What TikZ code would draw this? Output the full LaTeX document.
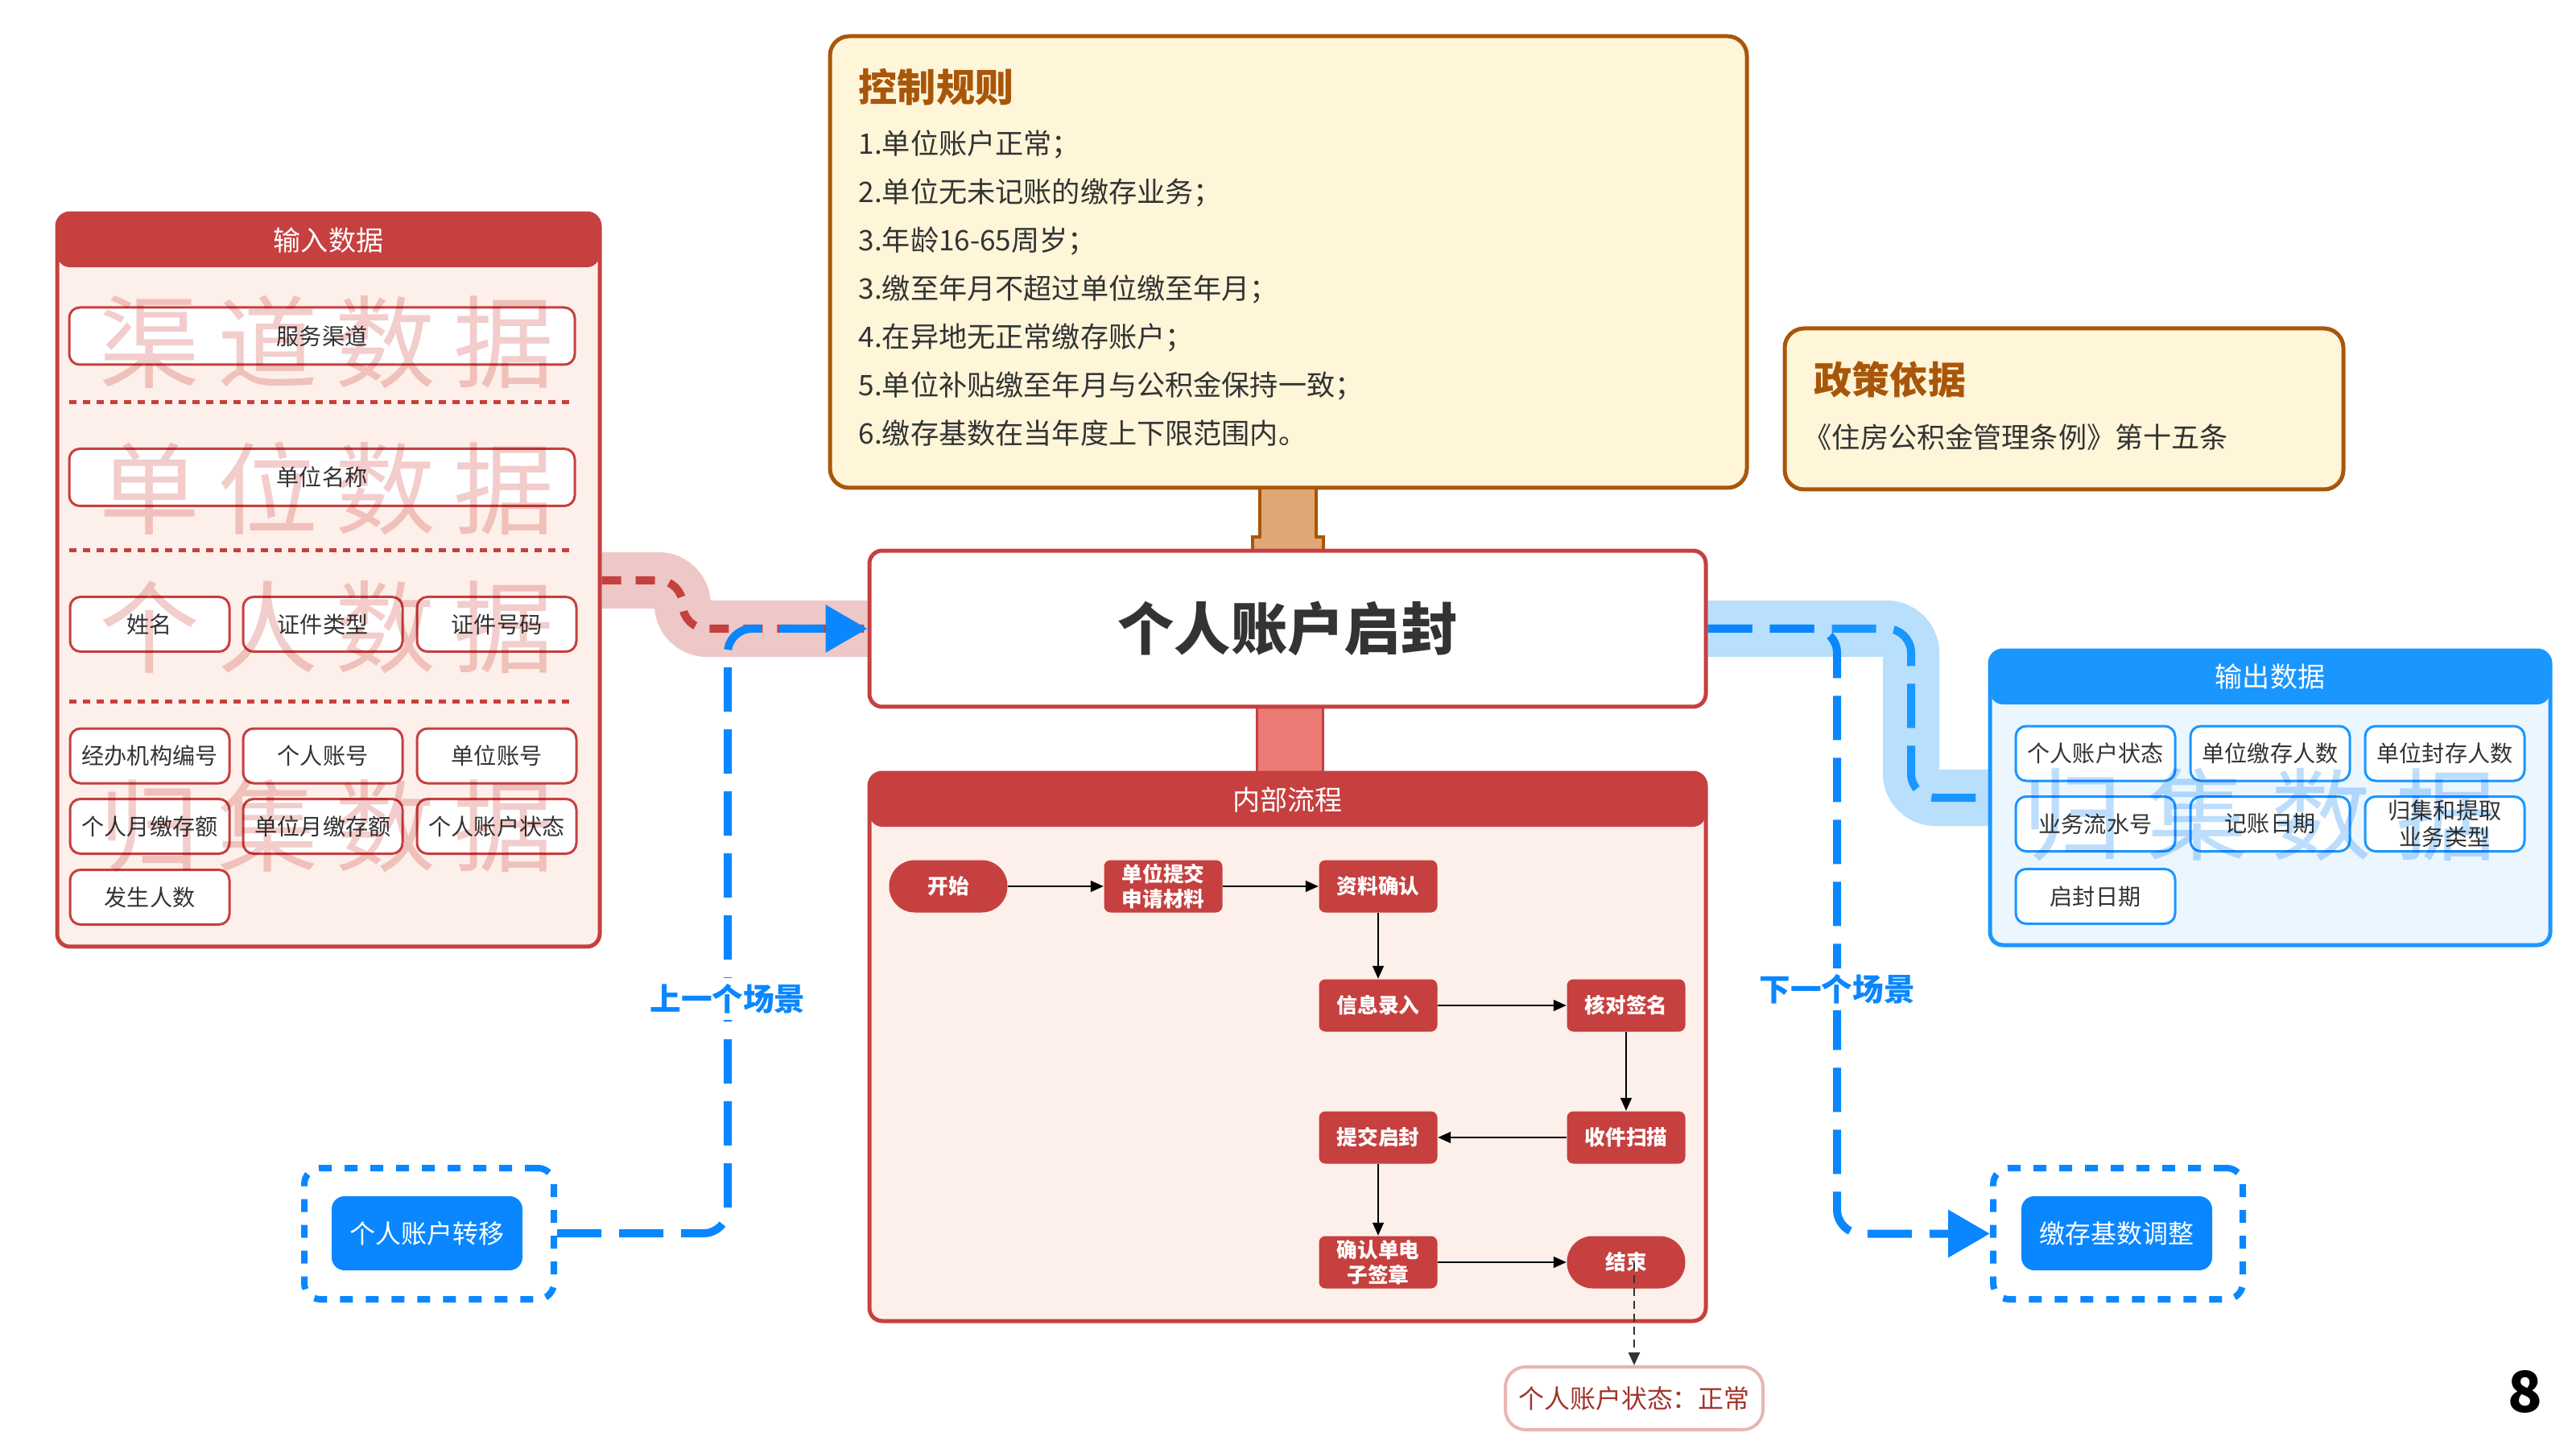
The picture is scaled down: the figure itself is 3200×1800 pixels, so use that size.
\documentclass[tikz,border=0pt]{standalone}
\usepackage{fontspec}
\setmainfont{Noto Sans CJK SC}
\usetikzlibrary{arrows,arrows.meta,positioning}

\definecolor{hdrred}{HTML}{C5403F}
\definecolor{panelpink}{HTML}{FDEFE9}
\definecolor{markpink}{HTML}{F2CDCC}
\definecolor{bandpink}{HTML}{EDC8C7}
\definecolor{linkred}{HTML}{EC7B75}
\definecolor{rulebrown}{HTML}{A8570A}
\definecolor{rulefill}{HTML}{FFF5D9}
\definecolor{stemtan}{HTML}{DFA774}
\definecolor{hdrblue}{HTML}{1A96FF}
\definecolor{lineblue}{HTML}{0A87FF}
\definecolor{bandblue}{HTML}{B8DFFC}
\definecolor{panelblue}{HTML}{EBF6FF}
\definecolor{markblue}{HTML}{BCDEFC}
\definecolor{txt}{HTML}{333333}
\definecolor{okred}{HTML}{A1362D}
\definecolor{okline}{HTML}{E9B5B2}

\pgfdeclarelayer{bg}
\pgfsetlayers{bg,main}

\begin{document}
\begin{tikzpicture}[x=0.1mm,y=-0.1mm,node distance=26.7mm,
    >={Triangle[length=1.6mm,width=1.4mm]},
    panel/.style={draw=#1,line width=0.5mm,rounded corners=1.6mm,inner sep=0pt},
    hdr/.style={path picture={\fill[#1] (path picture bounding box.north west)
      rectangle ([yshift=-6.7mm]path picture bounding box.north east);}},
    hdrtext/.style={text=white,inner sep=0pt,font=\fontsize{9.7}{11}\selectfont},
    databox/.style={draw=#1,fill=white,line width=0.3mm,rounded corners=1.3mm,
      minimum width=19.8mm,minimum height=6.8mm,inner sep=0pt,text=txt,
      align=center,font=\fontsize{8}{9.4}\selectfont},
    widebox/.style={databox=hdrred,minimum width=62.8mm,minimum height=7.1mm},
    sepline/.style={draw=hdrred,line width=0.5mm,dash pattern=on 0.9mm off 0.8mm},
    watermark/.style={text=#1,inner sep=0pt,font=\fontsize{35.5}{36}\selectfont},
    stepbox/.style={fill=hdrred,text=white,rounded corners=0.8mm,
      minimum width=14.7mm,minimum height=6.5mm,inner sep=0pt,align=center,
      font=\bfseries\fontsize{7.3}{8.8}\selectfont},
    startstop/.style={stepbox,rounded corners=3.2mm},
    band/.style={draw=#1,line width=7mm,rounded corners=3mm},
    flowline/.style={draw=#1,line width=1mm,dash pattern=on 5.5mm off 2.2mm,
      rounded corners=3mm},
    bigtip/.style={-{Triangle[length=5.2mm,width=5.7mm]}},
    sceneframe/.style={draw=lineblue,line width=0.8mm,dash pattern=on 1.6mm off 1.6mm,
      rounded corners=2mm,minimum width=31mm,minimum height=16.3mm,inner sep=0pt},
    scenebox/.style={fill=lineblue,text=white,rounded corners=1.6mm,inner sep=0pt,
      minimum width=23.7mm,minimum height=9.2mm,font=\fontsize{9.1}{11}\selectfont},
    scenelabel/.style={fill=white,text=lineblue,inner sep=0.8mm,
      font=\bfseries\fontsize{11}{13}\selectfont}]

  \useasboundingbox (0,0) rectangle (3200,1800);

  % rules and policy
  \node[panel=rulebrown,fill=rulefill,rounded corners=2.4mm,
        minimum width=113.9mm,minimum height=56.1mm] (rules) at (1600.5,325.5) {};
  \node[anchor=west,inner sep=0pt,text=rulebrown,
        font=\bfseries\fontsize{13.7}{15}\selectfont] (rulestitle) at (1066,108) {控制规则};
  \node[anchor=west,inner sep=0pt,text=txt,align=left,
        font=\fontsize{10}{17.1}\selectfont] (ruleslist) at (1066,358)
    {1.单位账户正常；\\2.单位无未记账的缴存业务；\\3.年龄16-65周岁；\\
     3.缴至年月不超过单位缴至年月；\\4.在异地无正常缴存账户；\\
     5.单位补贴缴至年月与公积金保持一致；\\6.缴存基数在当年度上下限范围内。};

  \node[panel=rulebrown,fill=rulefill,rounded corners=2.4mm,
        minimum width=69.4mm,minimum height=20mm] (policy) at (2564,508) {};
  \node[anchor=west,inner sep=0pt,text=rulebrown,
        font=\bfseries\fontsize{13.4}{15}\selectfont] (policytitle) at (2253,471) {政策依据};
  \node[anchor=west,inner sep=0pt,text=txt,
        font=\fontsize{10}{12}\selectfont] (policytext) at (2240,543)
    {《住房公积金管理条例》第十五条};

  % stems
  \draw[draw=rulebrown,fill=stemtan,line width=0.4mm]
    (1565,606) -- (1635,606) -- (1635,667) -- (1644,667) -- (1644,684)
    -- (1556,684) -- (1556,667) -- (1565,667) -- cycle;
  \draw[draw=hdrred,fill=linkred,line width=0.3mm] (1561,878) rectangle (1643,960);

  % main box
  \node[draw=hdrred,line width=0.5mm,fill=white,rounded corners=1.6mm,
        minimum width=103.9mm,minimum height=19.4mm,text=txt,
        font=\bfseries\fontsize{20}{24}\selectfont] (main) at (1599.5,781) {个人账户启封};

  % input data
  \node[panel=hdrred,fill=panelpink,hdr=hdrred,
        minimum width=67.4mm,minimum height=91.1mm] (inpanel) at (408,720.5) {};
  \node[hdrtext] (intitle) at (408,299) {输入数据};

  \node[widebox] (channel) at (400,417.5) {服务渠道};
  \draw[sepline] (86,500) -- (714,500);
  \node[widebox] (unitname) at (400,593) {单位名称};
  \draw[sepline] (86,684) -- (714,684);
  \node[databox=hdrred] (name) at (186,775.5) {姓名};
  \node[databox=hdrred] (idtype) at (401,775.5) {证件类型};
  \node[databox=hdrred] (idno) at (617,775.5) {证件号码};
  \draw[sepline] (86,871) -- (714,871);
  \node[databox=hdrred] (agency) at (186,939) {经办机构编号};
  \node[databox=hdrred] (perac) at (401,939) {个人账号};
  \node[databox=hdrred] (unitac) at (617,939) {单位账号};
  \node[databox=hdrred] (permonth) at (186,1026.5) {个人月缴存额};
  \node[databox=hdrred] (unitmonth) at (401,1026.5) {单位月缴存额};
  \node[databox=hdrred] (perstate) at (617,1026.5) {个人账户状态};
  \node[databox=hdrred] (count) at (186,1114.5) {发生人数};

  % output data
  \node[panel=hdrblue,fill=panelblue,hdr=hdrblue,
        minimum width=69.6mm,minimum height=36.6mm] (outpanel) at (2820,991) {};
  \node[hdrtext] (outtitle) at (2820,841) {输出数据};
  \node[databox=hdrblue] (ostate) at (2603,936) {个人账户状态};
  \node[databox=hdrblue] (opaid) at (2820,936) {单位缴存人数};
  \node[databox=hdrblue] (osealed) at (3037,936) {单位封存人数};
  \node[databox=hdrblue] (oserial) at (2603,1023.5) {业务流水号};
  \node[databox=hdrblue] (odate) at (2820,1023.5) {记账日期};
  \node[databox=hdrblue] (otype) at (3037,1023.5) {归集和提取\\业务类型};
  \node[databox=hdrblue] (oopen) at (2603,1113.5) {启封日期};

  \begin{scope}[blend mode=multiply]
    \node[watermark=markpink] (wm1) at (406,425) {渠\hspace{2.2mm}道\hspace{2.2mm}数\hspace{2.2mm}据};
    \node[watermark=markpink] (wm2) at (406,607) {单\hspace{2.2mm}位\hspace{2.2mm}数\hspace{2.2mm}据};
    \node[watermark=markpink] (wm3) at (406,779) {个\hspace{2.2mm}人\hspace{2.2mm}数\hspace{2.2mm}据};
    \node[watermark=markpink] (wm4) at (406,1026) {归\hspace{2.2mm}集\hspace{2.2mm}数\hspace{2.2mm}据};
    \node[watermark=markblue] (wm5) at (2807,1012) {归\hspace{3mm}集\hspace{3mm}数\hspace{3mm}据};
  \end{scope}

  % internal flow
  \node[panel=hdrred,fill=panelpink,hdr=hdrred,
        minimum width=103.9mm,minimum height=68.1mm] (flowpanel) at (1599.5,1300.5) {};
  \node[hdrtext] (flowtitle) at (1599.5,993.5) {内部流程};

  \node[startstop] (start) at (1178,1101) {开始};
  \node[stepbox] (submit) [right of=start] {单位提交\\申请材料};
  \node[stepbox] (check) [right of=submit] {资料确认};
  \node[stepbox] (entry) [below of=check,node distance=14.8mm] {信息录入};
  \node[stepbox] (sign) [right of=entry,node distance=30.8mm] {核对签名};
  \node[stepbox] (scan) [below of=sign,node distance=16.4mm] {收件扫描};
  \node[stepbox] (seal) [left of=scan,node distance=30.8mm] {提交启封};
  \node[stepbox] (esign) [below of=seal,node distance=15.5mm] {确认单电\\子签章};
  \node[startstop] (finish) [right of=esign,node distance=30.8mm] {结束};

  \path[->,line width=0.15mm]
    (start) edge (submit)
    (submit) edge (check)
    (check) edge (entry)
    (entry) edge (sign)
    (sign) edge (scan)
    (scan) edge (seal)
    (seal) edge (esign)
    (esign) edge (finish);

  \node[draw=okline,line width=0.4mm,fill=white,rounded corners=2.5mm,
        minimum width=32mm,minimum height=7.8mm,text=okred,
        font=\fontsize{9.1}{11}\selectfont] (status) at (2030,1737) {个人账户状态：正常};
  \draw[->,draw=txt,line width=0.25mm,dash pattern=on 1mm off 0.6mm]
    (finish.center -| status.north) -- (status.north);

  % scenes
  \node[sceneframe] (prevframe) at (533,1532.5) {};
  \node[scenebox] (prev) at (530.5,1532) {个人账户转移};
  \node[sceneframe] (nextframe) at (2631,1532.5) {};
  \node[scenebox] (next) at (2629.5,1532) {缴存基数调整};
  \node[scenelabel] (prevlabel) at (904,1241) {上一个场景};
  \node[scenelabel] (nextlabel) at (2282,1229) {下一个场景};

  \coordinate (inbend) at (848,721);
  \coordinate (outbend) at (2374,781);
  \coordinate (prevturn) at (904,1532);
  \coordinate (nextturn) at (2282,781);

  \begin{pgfonlayer}{bg}
    \draw[band=bandpink] (inpanel.east |- inbend) -- (inbend) -- (inbend |- main.west) -- (main.west);
    \draw[flowline=hdrred,dash pattern=on 2.4mm off 1.8mm]
      (inpanel.east |- inbend) -- (inbend) -- (inbend |- main.west) -- (main.west);
    \draw[flowline=lineblue,bigtip]
      (prevframe.east |- prevturn) -- (prevturn) -- (prevturn |- main.west) -- (main.west);
    \draw[band=bandblue] (main.east) -- (outbend) -- (outbend |- outpanel.west) -- (outpanel.west);
    \draw[flowline=hdrblue]
      (main.east) -- (outbend) -- (outbend |- outpanel.west) -- (outpanel.west);
    \draw[flowline=lineblue,bigtip]
      (main.east) -- (nextturn) -- (nextturn |- nextframe.west) -- (nextframe.west);
  \end{pgfonlayer}

  \node[inner sep=0pt,text=black,font=\bfseries\fontsize{20}{24}\selectfont] (page) at (3137,1729) {8};
\end{tikzpicture}
\end{document}
